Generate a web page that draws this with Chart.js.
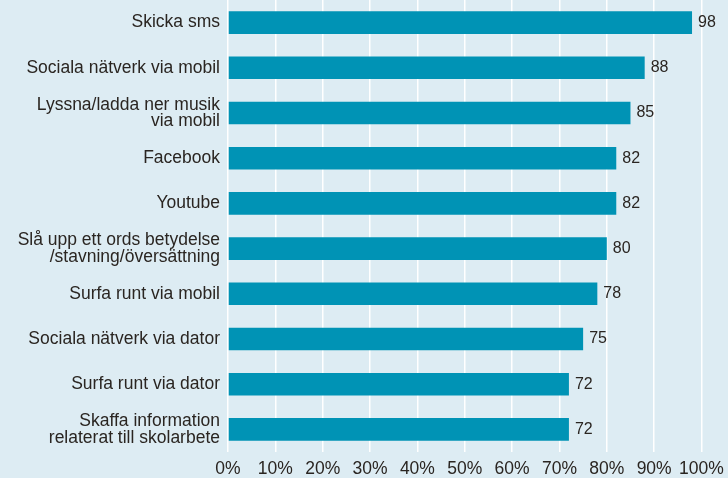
<!DOCTYPE html>
<html>
<head>
<meta charset="utf-8">
<script src="https://cdn.jsdelivr.net/npm/chart.js@4/dist/chart.umd.min.js"></script>
<style>
  html, body { margin: 0; padding: 0; background: #ddecf3; }
  #wrap { width: 728px; height: 478px; }
</style>
</head>
<body>
<div id="wrap"><canvas id="chart" width="728" height="478"></canvas></div>
<script>
// Categories (multi-line labels as arrays)
const categories = [
    ['Skicka sms'],
    ['Sociala nätverk via mobil'],
    ['Lyssna/ladda ner musik', 'via mobil'],
    ['Facebook'],
    ['Youtube'],
    ['Slå upp ett ords betydelse', '/stavning/översättning'],
    ['Surfa runt via mobil'],
    ['Sociala nätverk via dator'],
    ['Surfa runt via dator'],
    ['Skaffa information', 'relaterat till skolarbete']
];
const values = [98, 88, 85, 82, 82, 80, 78, 75, 72, 72];
const axisMin = 0;
const axisMax = 100;
const axisStep = 10;

const textColor = '#2a2521';
const barColor = '#0093b5';
const fontFamily = '"Liberation Sans", Arial, sans-serif';

// draws the number next to each bar end
const valueLabels = {
    id: 'valueLabels',
    afterDatasetsDraw(chart) {
        const ctx = chart.ctx;
        const meta = chart.getDatasetMeta(0);
        ctx.save();
        ctx.font = '16px ' + fontFamily;
        ctx.fillStyle = textColor;
        ctx.textAlign = 'left';
        ctx.textBaseline = 'middle';
        meta.data.forEach((bar, i) => {
            ctx.fillText(String(values[i]), bar.x + 6, bar.y);
        });
        ctx.restore();
    }
};

const ctx = document.getElementById('chart').getContext('2d');
const chart = new Chart(ctx, {
    type: 'bar',
    data: {
        labels: categories,
        datasets: [{
            data: values,
            backgroundColor: barColor,
            borderWidth: 0,
            barPercentage: 0.5,
            categoryPercentage: 1
        }]
    },
    options: {
        indexAxis: 'y',
        responsive: false,
        animation: false,
        devicePixelRatio: 1,
        layout: { padding: { top: -2, right: 26.5, bottom: 0, left: 0 } },
        plugins: {
            legend: { display: false },
            tooltip: { enabled: false }
        },
        scales: {
            x: {
                min: axisMin,
                max: axisMax,
                border: { display: false },
                grid: { color: '#ffffff', lineWidth: 1.5, drawTicks: false },
                ticks: {
                    stepSize: axisStep,
                    padding: 8.5,
                    maxRotation: 0,
                    minRotation: 0,
                    autoSkip: false,
                    color: textColor,
                    font: { family: fontFamily, size: 17.5, lineHeight: 1 },
                    callback: v => v + '%'
                },
                afterFit(scale) {
                    scale.height = 26;
                    scale.paddingLeft = 0;
                    scale.paddingRight = 0;
                }
            },
            y: {
                border: { display: false },
                grid: { display: false, drawTicks: false },
                ticks: {
                    padding: 8,
                    color: textColor,
                    font: { family: fontFamily, size: 17.5, lineHeight: 0.95 }
                },
                afterFit(scale) {
                    scale.width = 228;
                    scale.paddingTop = 0;
                    scale.paddingBottom = 0;
                }
            }
        }
    },
    plugins: [valueLabels]
});
</script>
</body>
</html>
